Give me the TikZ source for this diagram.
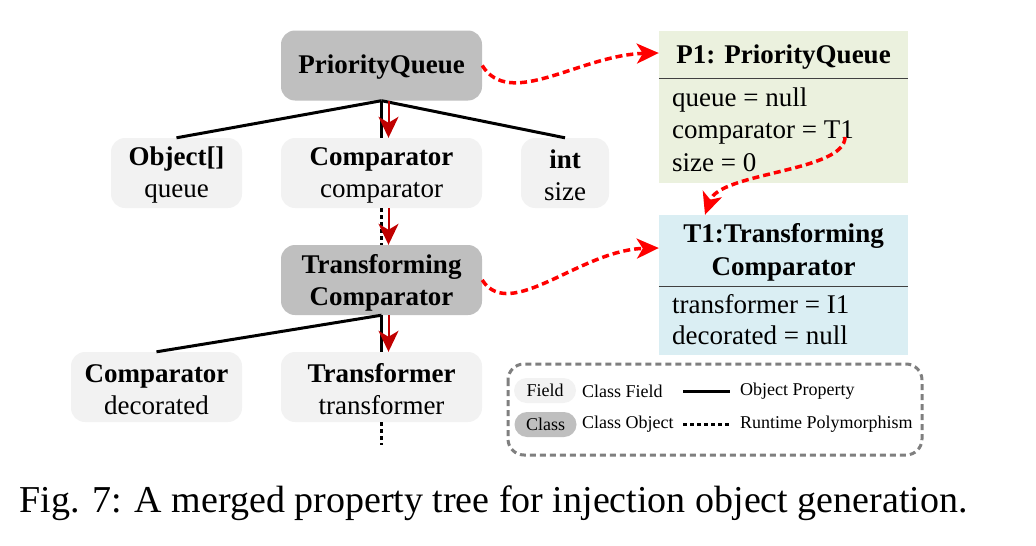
\documentclass[tikz,border=0pt]{standalone}
\usepackage{fontspec}
\setmainfont{Liberation Serif}
\usetikzlibrary{arrows.meta}
\definecolor{clsgray}{HTML}{BFBFBF}
\definecolor{fldgray}{HTML}{F2F2F2}
\definecolor{pgreen}{HTML}{EBF1DE}
\definecolor{tblue}{HTML}{DAEEF3}
\definecolor{darkred}{HTML}{C00000}
\definecolor{brightred}{HTML}{FF0000}
\definecolor{leggray}{HTML}{7F7F7F}
\definecolor{sepgray}{HTML}{404040}
\newcommand\mainfs{\fontsize{27}{32}\selectfont}
\newcommand\legfs{\fontsize{18}{21}\selectfont}
\newcommand\topstrut{\rule{0pt}{23pt}}
\tikzset{
  clsbox/.style={fill=clsgray, rounded corners=14pt, minimum height=70pt, align=center, font=\mainfs\bfseries, inner sep=0pt},
  fldbox/.style={fill=fldgray, rounded corners=14pt, minimum height=70pt, align=center, font=\mainfs, inner sep=0pt},
  prop/.style={line width=3pt, black},
  poly/.style={line width=3pt, black, dash pattern=on 4pt off 3pt},
  flow/.style={line width=2pt, darkred, -{Stealth[length=21pt,width=20pt,inset=6pt]}},
  link/.style={line width=3.5pt, brightred, dash pattern=on 7pt off 4pt, -{Stealth[length=22pt,width=20pt,inset=6pt]}},
  objbox/.style={inner sep=0pt},
  txt/.style={inner sep=0pt, font=\mainfs},
  ttl/.style={inner sep=0pt, font=\mainfs\bfseries},
  legtxt/.style={inner sep=0pt, font=\legfs, anchor=west},
  pill/.style={rounded corners=12.5pt, minimum width=62pt, minimum height=25pt, inner sep=0pt, font=\legfs},
}
\begin{document}
\begin{tikzpicture}[x=1pt,y=-1pt]
\useasboundingbox (0,0) rectangle (1036,546);
% tree nodes
\node[clsbox, minimum width=201pt] (pq) at (381.5,65.5) {\rule{0pt}{21pt}PriorityQueue};
\node[fldbox, minimum width=131pt] (objq) at (176.5,173) {\topstrut\textbf{Object[]}\\queue};
\node[fldbox, minimum width=201pt] (cmp) at (381.5,173) {\topstrut\textbf{Comparator}\\comparator};
\node[fldbox, minimum width=88pt] (intn) at (565,173) {\topstrut\textbf{int}\\size};
\node[clsbox, minimum width=201pt] (tc) at (381.5,280) {\rule{0pt}{24pt}Transforming\\Comparator};
\node[fldbox, minimum width=171pt] (dec) at (156.5,387) {\topstrut\textbf{Comparator}\\decorated};
\node[fldbox, minimum width=201pt] (trf) at (381.5,387) {\topstrut\textbf{Transformer}\\transformer};
\coordinate (tail) at (381.5,445);
% property lines
\draw[prop] (pq.south) -- (objq.north);
\draw[prop] (pq.south) -- (intn.north);
\draw[prop] (pq.south) -- (cmp.north);
\draw[poly] (cmp.south) -- (tc.north);
\draw[prop] (tc.south) -- (dec.north);
\draw[prop] (tc.south) -- (trf.north);
\draw[poly] (trf.south) -- (tail);
% red flow arrows
\draw[flow] ([xshift=7pt]pq.south) -- ([xshift=7pt]cmp.north);
\draw[flow] ([xshift=7pt]cmp.south) -- ([xshift=7pt]tc.north);
\draw[flow] ([xshift=7pt]tc.south) -- ([xshift=7pt]trf.north);
% object boxes
\node[objbox, fill=pgreen, minimum width=249pt, minimum height=152pt] (p1) at (783.5,107) {};
\node[objbox, fill=tblue, minimum width=249pt, minimum height=140pt] (t1) at (783.5,285) {};
\draw[sepgray, line width=1pt] (p1.west |- 0,78) -- (p1.east |- 0,78);
\draw[sepgray, line width=1pt] (t1.west |- 0,286) -- (t1.east |- 0,286);
\node[ttl, anchor=base] (p1t) at (783.5,63) {P1: PriorityQueue};
\node[txt, anchor=base west] (p1a) at (672,106) {queue = null};
\node[txt, anchor=base west] (p1b) at (672,138) {comparator = T1};
\node[txt, anchor=base west] (p1c) at (672,171) {size = 0};
\node[ttl, anchor=base] (t1t) at (783.5,242) {T1:Transforming};
\node[ttl, anchor=base] (t1u) at (783.5,275) {Comparator};
\node[txt, anchor=base west] (t1a) at (672,313) {transformer = I1};
\node[txt, anchor=base west] (t1b) at (672,344) {decorated = null};
\coordinate (src) at ([xshift=-9pt,yshift=-5pt]p1b.east);
\coordinate (dst) at (t1.north -| 705,0);
% dashed red links
\draw[link] (pq.east) .. controls (510,110) and (580,55) .. (p1.west |- 0,53);
\draw[link] (tc.east) .. controls (510,323) and (580,250) .. (t1.west |- 0,248);
\draw[link] (src) .. controls (845,172) and (720,172) .. (dst);
% legend
\draw[leggray, line width=3pt, dash pattern=on 6pt off 4pt, rounded corners=16pt] (508,364) rectangle (922,455);
\node[pill, fill=fldgray] (lf) at (545,390.5) {Field};
\node[pill, fill=clsgray] (lc) at (545.5,424.5) {Class};
\node[legtxt] (lft) at (582,391) {Class Field};
\node[legtxt] (lct) at (582,424) {Class Object};
\coordinate (la1) at (683,391);
\coordinate (la2) at (730,391);
\coordinate (lb1) at (683,424);
\coordinate (lb2) at (730,424);
\draw[prop] (la1) -- (la2);
\draw[poly] (lb1) -- (lb2);
\node[legtxt] (lop) at (740,391) {Object Property};
\node[legtxt] (lrp) at (740,424) {Runtime Polymorphism};
% caption
\node[inner sep=0pt, anchor=base west, font=\fontsize{38}{44}\selectfont] (cap) at (19.5,512) {Fig. 7: A merged property tree for injection object generation.};
\end{tikzpicture}
\end{document}
